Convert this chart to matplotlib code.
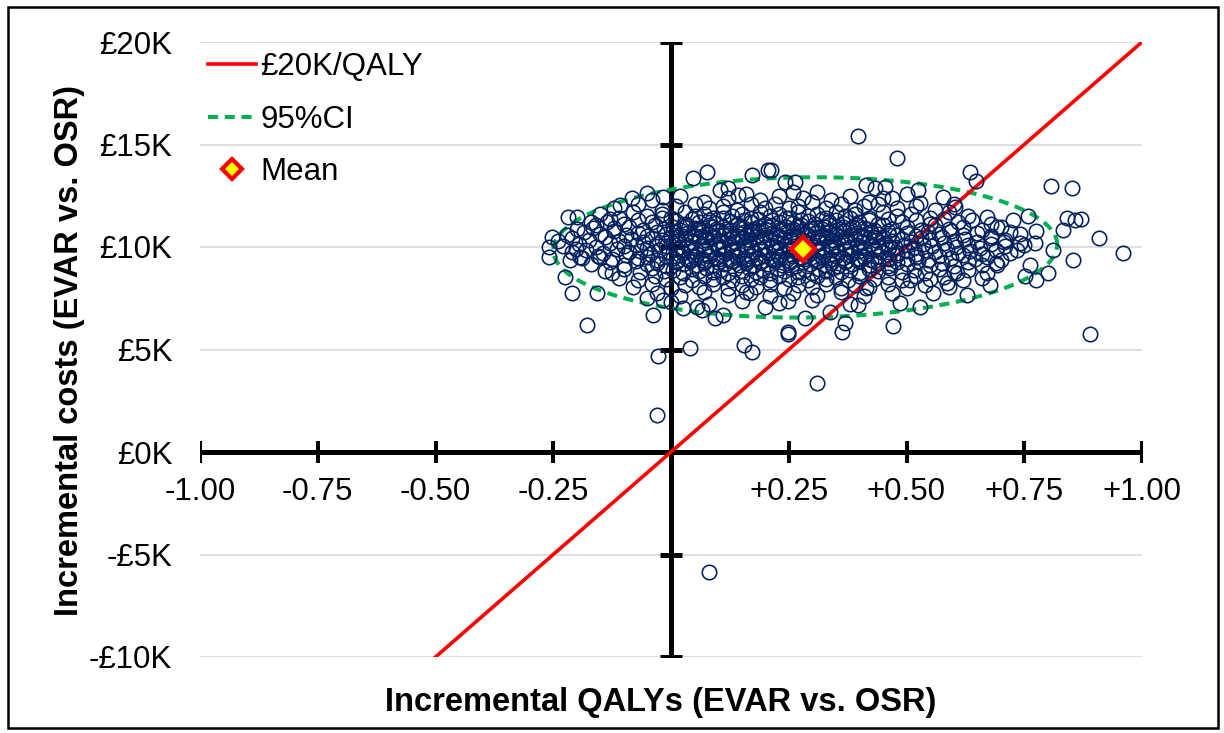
"""
Cost-effectiveness plane: EVAR vs. OSR, probabilistic sensitivity analysis.
"""

import numpy as np
import matplotlib
matplotlib.use("Agg")
import matplotlib.pyplot as plt
from matplotlib.lines import Line2D
from matplotlib.patches import Rectangle

plt.rcParams['font.family'] = ['Liberation Sans', 'DejaVu Sans']

# Data (incremental QALYs, incremental cost in £K)
outer_left = [
    (-0.253, 10.47), (-0.258, 9.98), (-0.258, 9.53), (-0.218, 11.45), (-0.200, 11.48),
    (-0.166, 10.91), (-0.202, 9.89), (-0.214, 9.37), (-0.193, 9.53), (-0.225, 8.52),
    (-0.210, 7.74), (-0.179, 6.20), (-0.158, 7.74), (-0.151, 9.53), (-0.135, 11.23),
    (-0.126, 8.72), (-0.108, 12.05), (-0.083, 12.37), (-0.052, 12.62), (-0.016, 12.45),
    (-0.052, 7.50), (-0.038, 6.68), (-0.017, 7.41), (0.047, 13.35), (0.076, 13.67),
    (0.104, 12.78), (0.121, 12.88), (0.142, 12.54), (0.171, 13.51), (0.206, 13.76),
    (0.026, 7.02), (0.055, 7.09), (0.065, 6.93), (0.093, 6.54), (0.110, 6.68),
    (0.168, 7.75), (0.200, 7.09),
]
outer_low = [
    (0.040, 5.05), (0.154, 5.20), (0.171, 4.88), (-0.027, 4.68), (-0.030, 1.80),
    (0.248, 5.76), (0.309, 3.35), (0.081, -5.87), (0.362, 5.87), (0.890, 5.74),
]
outer_right = [
    (0.396, 15.41), (0.479, 14.36), (0.212, 13.76), (0.242, 13.19), (0.263, 13.19),
    (0.260, 12.70), (0.635, 13.67), (0.648, 13.22), (0.415, 13.02), (0.433, 12.86),
    (0.454, 12.94), (0.451, 12.37), (0.525, 12.78), (0.529, 12.13), (0.578, 12.45),
    (0.603, 11.97), (0.670, 11.48), (0.692, 10.99), (0.706, 10.26), (0.692, 9.12),
    (0.677, 8.15), (0.628, 7.66), (0.557, 7.74), (0.529, 7.09), (0.486, 7.28),
    (0.472, 6.15), (0.369, 6.28), (0.285, 6.52), (0.249, 5.84), (0.249, 7.35),
    (0.338, 6.84), (0.398, 7.17), (0.415, 7.98), (0.507, 8.39), (0.585, 8.23),
    (0.607, 8.72),
    (0.806, 12.98), (0.852, 12.90), (0.841, 11.40), (0.858, 11.32), (0.870, 11.37),
    (0.832, 10.83), (0.909, 10.42), (0.959, 9.72), (0.854, 9.37), (0.810, 9.85),
    (0.800, 8.72), (0.776, 8.39), (0.752, 8.59), (0.762, 9.12), (0.776, 10.78),
    (0.757, 11.51), (0.727, 11.32), (0.741, 10.62), (0.772, 10.18), (0.734, 9.85),
]
core_upper = [
    (-0.04, 12.3), (0.02, 12.5), (0.07, 12.2), (0.12, 12.4), (0.16, 12.6), (0.19, 12.3),
    (0.23, 12.5), (0.28, 12.4), (0.31, 12.7), (0.34, 12.3), (0.38, 12.5), (0.42, 12.2),
    (0.47, 12.4), (0.50, 12.6),
    (-0.12, 11.9), (-0.07, 12.1), (-0.02, 11.8), (0.01, 12.0), (0.05, 12.1), (0.08, 11.9),
    (0.11, 12.0), (0.14, 11.8), (0.17, 12.1), (0.20, 11.9), (0.22, 12.1), (0.25, 11.9),
    (0.27, 12.0), (0.30, 12.2), (0.33, 11.9), (0.36, 12.1), (0.39, 11.8), (0.41, 12.0),
    (0.44, 12.1), (0.48, 11.9), (0.52, 12.0), (0.56, 11.8), (0.60, 12.1),
    (-0.15, 11.6), (-0.11, 11.4), (-0.08, 11.7), (-0.05, 11.5), (-0.02, 11.6), (0.00, 11.4),
    (0.03, 11.7), (0.05, 11.5), (0.07, 11.6), (0.09, 11.4), (0.11, 11.7), (0.13, 11.5),
    (0.15, 11.6), (0.17, 11.4), (0.19, 11.7), (0.21, 11.5), (0.23, 11.6), (0.25, 11.4),
    (0.27, 11.7), (0.29, 11.5), (0.31, 11.6), (0.33, 11.4), (0.35, 11.7), (0.37, 11.5),
    (0.39, 11.6), (0.42, 11.4), (0.45, 11.7), (0.48, 11.5), (0.51, 11.6), (0.55, 11.4),
    (0.59, 11.7), (0.63, 11.5),
    (-0.17, 11.2), (-0.13, 11.35), (-0.10, 11.1), (-0.07, 11.3), (-0.04, 11.2), (-0.02, 11.4),
    (0.01, 11.25), (0.03, 11.1), (0.045, 11.35), (0.06, 11.2), (0.08, 11.3), (0.095, 11.15),
    (0.11, 11.4), (0.125, 11.25), (0.14, 11.1), (0.155, 11.3), (0.17, 11.2), (0.185, 11.35),
    (0.20, 11.1), (0.215, 11.3), (0.23, 11.2), (0.245, 11.4), (0.26, 11.15), (0.275, 11.3),
    (0.29, 11.25), (0.305, 11.1), (0.32, 11.35), (0.335, 11.2), (0.35, 11.3), (0.365, 11.15),
    (0.38, 11.4), (0.40, 11.2), (0.42, 11.3), (0.44, 11.1), (0.46, 11.35), (0.49, 11.2),
    (0.52, 11.3), (0.55, 11.1), (0.58, 11.35), (0.61, 11.2), (0.64, 11.3), (0.68, 11.1),
]
core_middle = [
    (-0.20, 10.9), (-0.16, 11.05), (-0.12, 10.95), (-0.09, 11.0), (-0.06, 10.85), (-0.035, 11.05),
    (-0.015, 10.9), (0.005, 11.0), (0.02, 10.85), (0.035, 11.05), (0.05, 10.95), (0.065, 10.85),
    (0.08, 11.05), (0.095, 10.9), (0.11, 11.0), (0.125, 10.85), (0.14, 11.05), (0.155, 10.95),
    (0.17, 10.85), (0.185, 11.0), (0.20, 10.9), (0.215, 11.05), (0.23, 10.85), (0.245, 11.0),
    (0.26, 10.9), (0.275, 11.05), (0.29, 10.85), (0.305, 11.0), (0.32, 10.9), (0.335, 11.05),
    (0.35, 10.85), (0.365, 11.0), (0.38, 10.9), (0.395, 11.05), (0.41, 10.95), (0.43, 10.85),
    (0.45, 11.05), (0.47, 10.9), (0.50, 11.0), (0.53, 10.85), (0.56, 11.05), (0.59, 10.9),
    (0.62, 11.0), (0.66, 10.85), (0.70, 11.0),
    (-0.22, 10.6), (-0.185, 10.75), (-0.15, 10.65), (-0.12, 10.8), (-0.095, 10.6), (-0.07, 10.7),
    (-0.05, 10.55), (-0.03, 10.75), (-0.01, 10.65), (0.005, 10.8), (0.02, 10.6), (0.035, 10.7),
    (0.05, 10.55), (0.065, 10.75), (0.08, 10.65), (0.095, 10.8), (0.11, 10.6), (0.125, 10.7),
    (0.14, 10.55), (0.155, 10.75), (0.17, 10.65), (0.185, 10.8), (0.20, 10.6), (0.215, 10.7),
    (0.23, 10.55), (0.245, 10.75), (0.26, 10.65), (0.275, 10.8), (0.29, 10.6), (0.305, 10.7),
    (0.32, 10.55), (0.335, 10.75), (0.35, 10.65), (0.365, 10.8), (0.38, 10.6), (0.395, 10.7),
    (0.41, 10.55), (0.425, 10.75), (0.44, 10.65), (0.46, 10.8), (0.48, 10.6), (0.50, 10.7),
    (0.52, 10.55), (0.545, 10.75), (0.57, 10.65), (0.595, 10.8), (0.62, 10.6), (0.65, 10.7),
    (0.68, 10.55), (0.72, 10.75),
    (-0.24, 10.3), (-0.21, 10.45), (-0.175, 10.35), (-0.14, 10.5), (-0.11, 10.3), (-0.085, 10.4),
    (-0.06, 10.25), (-0.04, 10.45), (-0.02, 10.35), (0.00, 10.5), (0.015, 10.3), (0.03, 10.4),
    (0.045, 10.25), (0.06, 10.45), (0.075, 10.35), (0.09, 10.5), (0.105, 10.3), (0.12, 10.4),
    (0.135, 10.25), (0.15, 10.45), (0.165, 10.35), (0.18, 10.5), (0.195, 10.3), (0.21, 10.4),
    (0.225, 10.25), (0.24, 10.45), (0.255, 10.35), (0.27, 10.5), (0.285, 10.3), (0.30, 10.4),
    (0.315, 10.25), (0.33, 10.45), (0.345, 10.35), (0.36, 10.5), (0.375, 10.3), (0.39, 10.4),
    (0.405, 10.25), (0.42, 10.45), (0.435, 10.35), (0.45, 10.5), (0.47, 10.3), (0.49, 10.4),
    (0.51, 10.25), (0.53, 10.45), (0.55, 10.35), (0.575, 10.5), (0.60, 10.3), (0.625, 10.4),
    (0.65, 10.25), (0.68, 10.45), (0.71, 10.35), (0.74, 10.2),
    (-0.23, 10.05), (-0.195, 10.15), (-0.16, 10.0), (-0.13, 10.2), (-0.10, 10.05), (-0.075, 10.1),
    (-0.05, 9.95), (-0.03, 10.15), (-0.01, 10.05), (0.005, 10.2), (0.02, 10.0), (0.035, 10.1),
    (0.05, 9.95), (0.065, 10.15), (0.08, 10.05), (0.095, 10.2), (0.11, 10.0), (0.125, 10.1),
    (0.14, 9.95), (0.155, 10.15), (0.17, 10.05), (0.185, 10.2), (0.20, 10.0), (0.215, 10.1),
    (0.23, 9.95), (0.245, 10.15), (0.26, 10.05), (0.275, 10.2), (0.29, 10.0), (0.305, 10.1),
    (0.32, 9.95), (0.335, 10.15), (0.35, 10.05), (0.365, 10.2), (0.38, 10.0), (0.395, 10.1),
    (0.41, 9.95), (0.425, 10.15), (0.44, 10.05), (0.455, 10.2), (0.475, 10.0), (0.495, 10.1),
    (0.515, 9.95), (0.535, 10.15), (0.555, 10.05), (0.58, 10.2), (0.605, 10.0), (0.63, 10.1),
    (0.655, 9.95), (0.68, 10.15), (0.71, 10.05), (0.75, 10.1),
]
core_lower = [
    (-0.21, 9.75), (-0.18, 9.85), (-0.145, 9.7), (-0.115, 9.9), (-0.09, 9.75), (-0.065, 9.8),
    (-0.045, 9.65), (-0.025, 9.85), (-0.005, 9.75), (0.01, 9.9), (0.025, 9.7), (0.04, 9.8),
    (0.055, 9.65), (0.07, 9.85), (0.085, 9.75), (0.10, 9.9), (0.115, 9.7), (0.13, 9.8),
    (0.145, 9.65), (0.16, 9.85), (0.175, 9.75), (0.19, 9.9), (0.205, 9.7), (0.22, 9.8),
    (0.235, 9.65), (0.25, 9.85), (0.265, 9.75), (0.28, 9.9), (0.295, 9.7), (0.31, 9.8),
    (0.325, 9.65), (0.34, 9.85), (0.355, 9.75), (0.37, 9.9), (0.385, 9.7), (0.40, 9.8),
    (0.415, 9.65), (0.43, 9.85), (0.445, 9.75), (0.46, 9.9), (0.48, 9.7), (0.50, 9.8),
    (0.52, 9.65), (0.54, 9.85), (0.56, 9.75), (0.585, 9.9), (0.61, 9.7), (0.635, 9.8),
    (0.66, 9.65), (0.69, 9.85), (0.72, 9.7),
    (-0.19, 9.45), (-0.155, 9.55), (-0.125, 9.4), (-0.095, 9.6), (-0.07, 9.45), (-0.05, 9.5),
    (-0.03, 9.35), (-0.01, 9.55), (0.005, 9.45), (0.02, 9.6), (0.035, 9.4), (0.05, 9.5),
    (0.065, 9.35), (0.08, 9.55), (0.095, 9.45), (0.11, 9.6), (0.125, 9.4), (0.14, 9.5),
    (0.155, 9.35), (0.17, 9.55), (0.185, 9.45), (0.20, 9.6), (0.215, 9.4), (0.23, 9.5),
    (0.245, 9.35), (0.26, 9.55), (0.275, 9.45), (0.29, 9.6), (0.305, 9.4), (0.32, 9.5),
    (0.335, 9.35), (0.35, 9.55), (0.365, 9.45), (0.38, 9.6), (0.395, 9.4), (0.41, 9.5),
    (0.425, 9.35), (0.44, 9.55), (0.46, 9.45), (0.48, 9.6), (0.50, 9.4), (0.52, 9.5),
    (0.545, 9.35), (0.57, 9.55), (0.595, 9.45), (0.62, 9.6), (0.645, 9.4), (0.67, 9.5),
    (0.70, 9.35),
    (-0.17, 9.15), (-0.13, 9.25), (-0.10, 9.1), (-0.075, 9.3), (-0.05, 9.15), (-0.03, 9.2),
    (-0.01, 9.05), (0.01, 9.25), (0.025, 9.15), (0.04, 9.3), (0.055, 9.1), (0.07, 9.2),
    (0.085, 9.05), (0.10, 9.25), (0.115, 9.15), (0.13, 9.3), (0.145, 9.1), (0.16, 9.2),
    (0.175, 9.05), (0.19, 9.25), (0.205, 9.15), (0.22, 9.3), (0.235, 9.1), (0.25, 9.2),
    (0.265, 9.05), (0.28, 9.25), (0.295, 9.15), (0.31, 9.3), (0.325, 9.1), (0.34, 9.2),
    (0.355, 9.05), (0.37, 9.25), (0.385, 9.15), (0.40, 9.3), (0.42, 9.1), (0.44, 9.2),
    (0.46, 9.05), (0.48, 9.25), (0.50, 9.15), (0.525, 9.3), (0.55, 9.1), (0.575, 9.2),
    (0.60, 9.05), (0.63, 9.25), (0.66, 9.1), (0.69, 9.2),
    (-0.14, 8.85), (-0.10, 8.95), (-0.065, 8.8), (-0.04, 9.0), (-0.015, 8.85), (0.005, 8.9),
    (0.025, 8.75), (0.045, 8.95), (0.06, 8.85), (0.075, 9.0), (0.09, 8.8), (0.105, 8.9),
    (0.12, 8.75), (0.135, 8.95), (0.15, 8.85), (0.165, 9.0), (0.18, 8.8), (0.195, 8.9),
    (0.21, 8.75), (0.225, 8.95), (0.24, 8.85), (0.255, 9.0), (0.27, 8.8), (0.285, 8.9),
    (0.30, 8.75), (0.315, 8.95), (0.33, 8.85), (0.345, 9.0), (0.36, 8.8), (0.38, 8.9),
    (0.40, 8.75), (0.42, 8.95), (0.44, 8.85), (0.465, 9.0), (0.49, 8.8), (0.515, 8.9),
    (0.54, 8.75), (0.57, 8.95), (0.60, 8.8), (0.63, 8.9), (0.67, 8.75),
    (-0.11, 8.5), (-0.07, 8.4), (-0.035, 8.6), (-0.01, 8.45), (0.02, 8.55), (0.045, 8.4),
    (0.07, 8.6), (0.09, 8.45), (0.11, 8.55), (0.13, 8.4), (0.15, 8.6), (0.17, 8.45),
    (0.19, 8.55), (0.21, 8.4), (0.23, 8.6), (0.25, 8.45), (0.27, 8.55), (0.29, 8.4),
    (0.31, 8.6), (0.33, 8.45), (0.35, 8.55), (0.375, 8.4), (0.40, 8.6), (0.43, 8.45),
    (0.46, 8.55), (0.49, 8.4), (0.52, 8.6), (0.55, 8.45), (0.58, 8.55), (0.62, 8.4),
    (0.66, 8.5),
    (-0.08, 8.05), (-0.04, 8.2), (0.00, 8.0), (0.03, 8.15), (0.06, 8.05), (0.09, 8.2),
    (0.12, 8.0), (0.15, 8.15), (0.18, 8.05), (0.21, 8.2), (0.24, 8.0), (0.27, 8.15),
    (0.30, 8.05), (0.33, 8.2), (0.36, 8.0), (0.39, 8.15), (0.42, 8.05), (0.46, 8.2),
    (0.50, 8.0), (0.54, 8.15), (0.59, 8.05),
    (-0.03, 7.75), (0.02, 7.6), (0.07, 7.8), (0.12, 7.65), (0.16, 7.8), (0.21, 7.6),
    (0.26, 7.75), (0.31, 7.65), (0.36, 7.8), (0.41, 7.6), (0.47, 7.75),
    (0.00, 7.3), (0.08, 7.2), (0.15, 7.35), (0.23, 7.25), (0.30, 7.4), (0.38, 7.2),
]
core_dense = [
    (0.012, 10.5), (0.042, 10.6), (0.072, 10.5), (0.102, 10.6), (0.132, 10.5), (0.162, 10.6),
    (0.192, 10.5), (0.222, 10.6), (0.252, 10.5), (0.282, 10.6), (0.312, 10.5), (0.342, 10.6),
    (0.372, 10.5), (0.402, 10.6), (0.432, 10.5), (0.462, 10.6),
    (0.012, 9.9), (0.042, 10.0), (0.072, 9.9), (0.102, 10.0), (0.132, 9.9), (0.162, 10.0),
    (0.192, 9.9), (0.222, 10.0), (0.252, 9.9), (0.282, 10.0), (0.312, 9.9), (0.342, 10.0),
    (0.372, 9.9), (0.402, 10.0), (0.432, 9.9), (0.462, 10.0),
    (0.012, 9.3), (0.042, 9.4), (0.072, 9.3), (0.102, 9.4), (0.132, 9.3), (0.162, 9.4),
    (0.192, 9.3), (0.222, 9.4), (0.252, 9.3), (0.282, 9.4), (0.312, 9.3), (0.342, 9.4),
    (0.372, 9.3), (0.402, 9.4), (0.432, 9.3), (0.462, 9.4),
    (0.027, 11.0), (0.057, 10.9), (0.087, 11.0), (0.117, 10.9), (0.147, 11.0), (0.177, 10.9),
    (0.207, 11.0), (0.237, 10.9), (0.267, 11.0), (0.297, 10.9), (0.327, 11.0), (0.357, 10.9),
    (0.387, 11.0), (0.417, 10.9),
]

mean_qaly, mean_cost = 0.28, 9.9
wtp = 20.0                      # £K per QALY
ci_centre = (0.285, 9.98)
ci_half_width, ci_half_height, ci_tilt = 0.535, 3.42, 0.25

cost_ticks = [-10, -5, 0, 5, 10, 15, 20]
cost_labels = ['-£10K', '-£5K', '£0K', '£5K', '£10K', '£15K', '£20K']
qaly_ticks = [-1.0, -0.75, -0.5, -0.25, 0.0, 0.25, 0.5, 0.75, 1.0]
qaly_labels = ['-1.00', '-0.75', '-0.50', '-0.25', '', '+0.25', '+0.50', '+0.75', '+1.00']

NAVY = '#002060'
RED = '#FF0000'
GREEN = '#00B050'
FS = 22.5

fig = plt.figure(figsize=(12.24, 7.33), dpi=100)
ax = fig.add_axes([200 / 1224, 76 / 733, 942 / 1224, 615 / 733])
ax.set_xlim(-1, 1)
ax.set_ylim(-10, 20)
for s in ax.spines.values():
    s.set_visible(False)

# grid + labels on y
ax.set_yticks(cost_ticks)
ax.set_yticklabels(cost_labels, fontsize=FS)
ax.tick_params(axis='y', length=0, pad=20)
ax.set_xticks([])
for c in cost_ticks:
    if c != 0:
        ax.axhline(c, color='#D9D9D9', lw=1.2, zorder=0)

# crossing axes with tick marks
ax.plot([-1, 1], [0, 0], color='black', lw=3.6, zorder=2, solid_capstyle='butt')
ax.plot(qaly_ticks, [0] * len(qaly_ticks), ls='none', marker='|', ms=16.5,
        mew=2.9, color='black', zorder=2)
ax.plot([0, 0], [cost_ticks[0], cost_ticks[-1]], color='black', lw=3.6, zorder=2,
        solid_capstyle='butt')
ax.plot([0] * len(cost_ticks), cost_ticks, ls='none', marker='_', ms=16.5,
        mew=3.6, color='black', zorder=2)
for q, lab in zip(qaly_ticks, qaly_labels):
    if lab:
        ax.annotate(lab, (q, 0), xytext=(0, -18), textcoords='offset points',
                    ha='center', va='top', fontsize=FS)

# 95% CI ellipse
t = np.linspace(0, 2 * np.pi, 300)
ex = ci_centre[0] + ci_half_width * np.cos(t)
ey = ci_centre[1] + ci_half_height * np.sin(t) + ci_tilt * (ex - ci_centre[0])
ax.plot(ex, ey, color=GREEN, lw=2.9, dashes=[2.5, 1.66], zorder=3)

# willingness-to-pay line
q_line = np.array([cost_ticks[0] / wtp, 1.0])
ax.plot(q_line, wtp * q_line, color=RED, lw=2.6, zorder=4)

# PSA scatter
pts = outer_left + outer_low + outer_right + core_upper + core_middle + core_lower + core_dense
qaly = [p[0] for p in pts]
cost = [p[1] for p in pts]
ax.plot(qaly, cost, ls='none', marker='o', ms=10.4, mfc='none', mec=NAVY, mew=1.15,
        zorder=5)

ax.plot([mean_qaly], [mean_cost], ls='none', marker='D', ms=12, mfc='#FFFF00',
        mec=RED, mew=3.2, zorder=6)

handles = [
    Line2D([], [], color=RED, lw=2.6),
    Line2D([], [], color=GREEN, lw=2.9, dashes=[2.5, 1.66]),
    Line2D([], [], ls='none', marker='D', ms=10.5, mfc='#FFFF00', mec=RED, mew=3),
]
ax.legend(handles, ['£20K/QALY', '95%CI', 'Mean'], loc='upper left',
          bbox_to_anchor=(8 / 942, 1 - 10 / 615), frameon=False, fontsize=FS,
          handlelength=1.55, handletextpad=0.12, labelspacing=0.72,
          borderpad=0, borderaxespad=0)

fig.text(661 / 1224, 1 - 703 / 733, 'Incremental QALYs (EVAR vs. OSR)',
         ha='center', va='center', fontsize=23.5, fontweight='bold')
fig.text(70 / 1224, 1 - 350 / 733, 'Incremental costs (EVAR vs. OSR)',
         ha='center', va='center', rotation=90, fontsize=23.5, fontweight='bold')

fig.add_artist(Rectangle((8 / 1224, 1 - 728 / 733), 1210 / 1224, 721 / 733,
                         transform=fig.transFigure, fill=False, ec='black', lw=1.8))

fig.savefig('out.png', dpi=100)
